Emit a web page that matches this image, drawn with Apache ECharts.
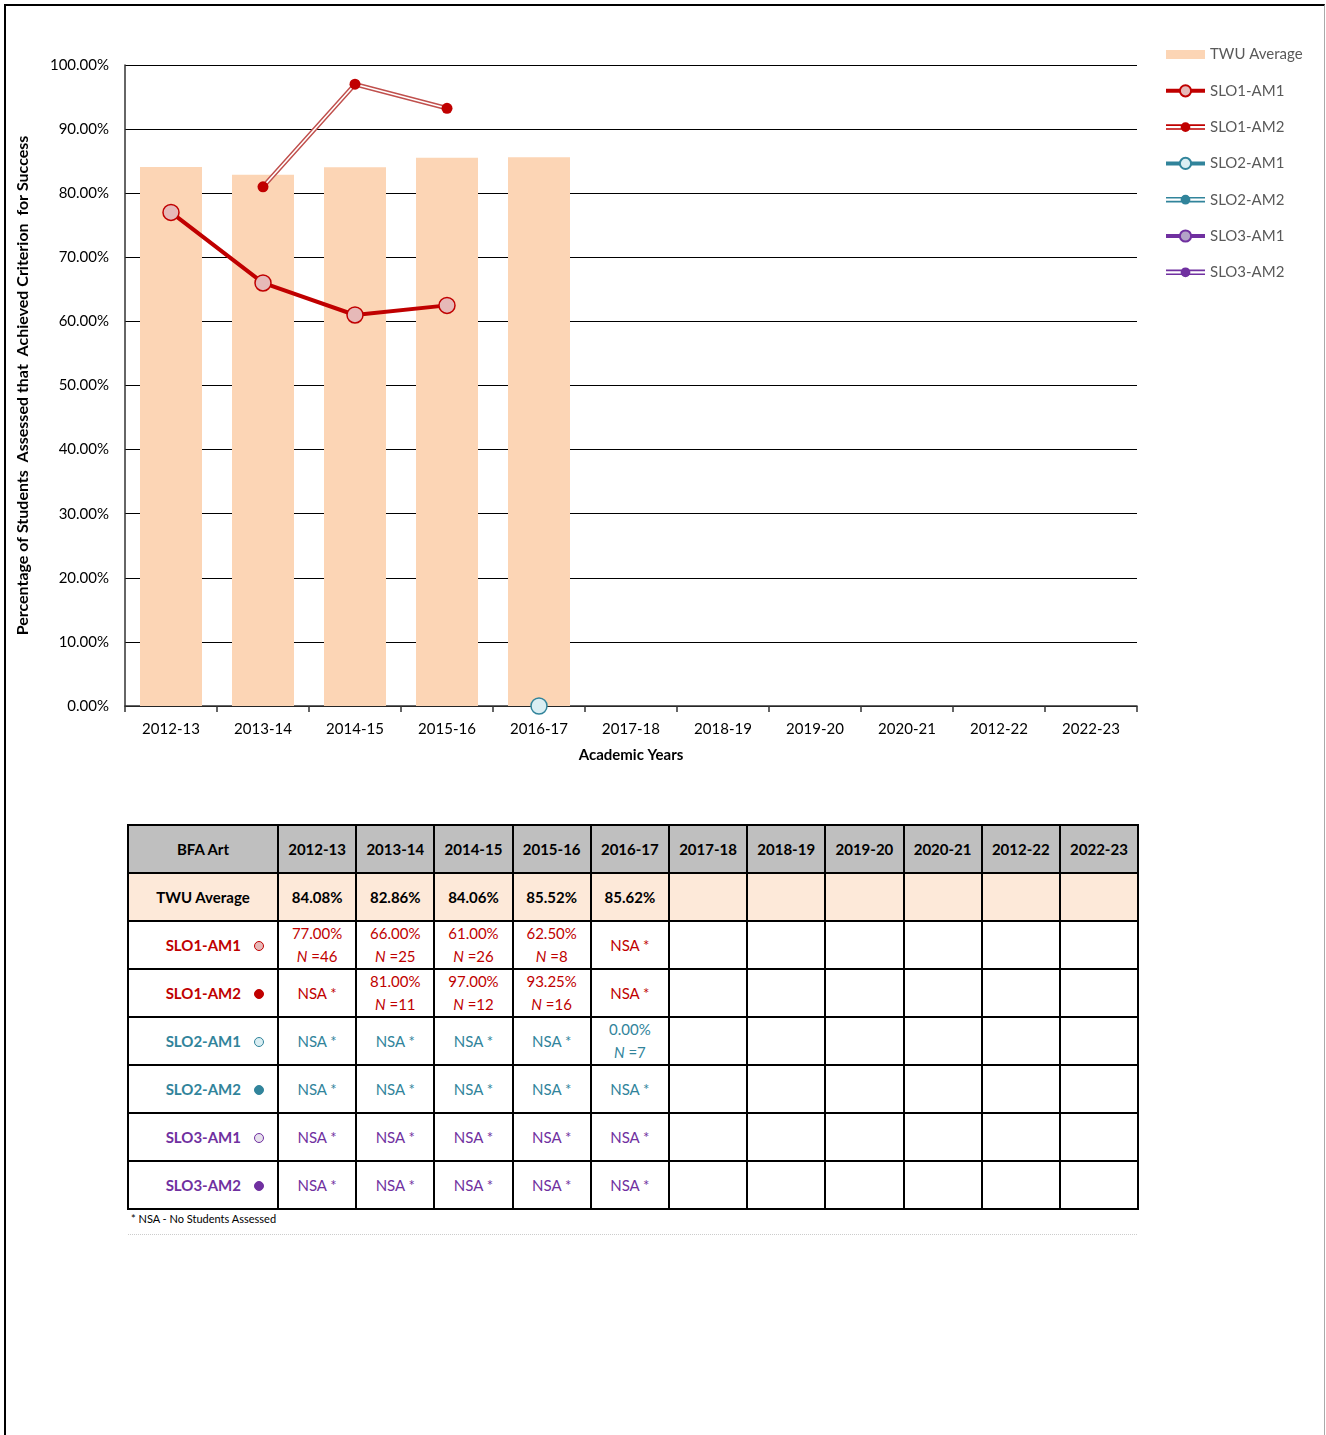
<!DOCTYPE html>
<html>
<head>
<meta charset="utf-8">
<script src="https://cdn.jsdelivr.net/npm/echarts@6/dist/echarts.min.js"></script>
<style>
html,body{margin:0;padding:0;background:#fff;width:1326px;height:1435px;overflow:hidden;}
#frame{position:absolute;left:4px;top:4px;width:1321px;height:1440px;border-top:2px solid #000;border-left:2px solid #000;border-right:1px solid #aaa;box-sizing:border-box;}
#chart{position:absolute;left:0;top:0;width:1326px;height:800px;}
#tbl{position:absolute;left:127px;top:824px;border-collapse:collapse;table-layout:fixed;font-family:Lato,"Open Sans",sans-serif;font-size:15px;}
#tbl td{border:2px solid #000;height:46px;padding:0;text-align:center;vertical-align:middle;line-height:23px;}
#tbl tr.hdr td{background:#BFBFBF;font-weight:bold;color:#000;}
#tbl tr.twu td{background:#FDE9D9;font-weight:bold;color:#000;}
#tbl td.lab{text-align:right;padding-right:13px;font-weight:bold;}
#tbl td.lab0{text-align:center;font-weight:bold;}
.mk{display:inline-block;width:8px;height:8px;border-radius:50%;margin-left:13px;vertical-align:middle;position:relative;top:-1px;}
#foot{position:absolute;left:131px;top:1212px;font-family:Lato,"Open Sans",sans-serif;font-size:11px;color:#000;}
#dots{position:absolute;left:128px;top:1234px;width:1009px;border-top:1px dotted #ccc;}
</style>
</head>
<body>
<div id="frame"></div>
<div id="chart"></div>
<table id="tbl"></table>
<div id="foot">* NSA - No Students Assessed</div>
<div id="dots"></div>
<script>
// ---------- data ----------
const years = ['2012-13','2013-14','2014-15','2015-16','2016-17','2017-18','2018-19','2019-20','2020-21','2012-22','2022-23'];
const recordedYears = 5;
const twuAvg   = [84.08, 82.86, 84.06, 85.52, 85.62];
const slo1am1  = [77.00, 66.00, 61.00, 62.50, null];
const slo1am1N = [46, 25, 26, 8, null];
const slo1am2  = [null, 81.00, 97.00, 93.25, null];
const slo1am2N = [null, 11, 12, 16, null];
const slo2am1  = [null, null, null, null, 0.00];
const slo2am1N = [null, null, null, null, 7];
const slo2am2  = [null, null, null, null, null];
const slo2am2N = [null, null, null, null, null];
const slo3am1  = [null, null, null, null, null];
const slo3am1N = [null, null, null, null, null];
const slo3am2  = [null, null, null, null, null];
const slo3am2N = [null, null, null, null, null];
const yTicks = [0,10,20,30,40,50,60,70,80,90,100];

// ---------- styles ----------
const RED='#C00000', RED2='#C0504D', TEAL='#31849B', PURP='#7030A0';
const FONT='Lato';

const corners='M0,0 L0.01,0 L0.01,0.01 Z M39.99,13.99 L40,13.99 L40,14 Z ';
const dblIcon='path://'+corners+'M0,4.2 L40,4.2 L40,5.8 L0,5.8 Z M0,8.2 L40,8.2 L40,9.8 L0,9.8 Z M15,7 A5,5 0 1,1 25,7 A5,5 0 1,1 15,7 Z';
const barIcon='path://'+corners+'M0,2.5 L40,2.5 L40,11.5 L0,11.5 Z';

function am1(name,data,color,fill){
  return {name:name,type:'line',data:data,z:5,clip:false,
    lineStyle:{color:color,width:4},symbol:'circle',symbolSize:16,showAllSymbol:true,
    itemStyle:{color:fill,borderColor:color,borderWidth:1.5}};
}
function am2(name,data,color,outer){
  return [
    {name:name+' outer',type:'line',data:data,z:4,symbol:'none',lineStyle:{color:outer,width:4.5},silent:true},
    {name:name+' core',type:'line',data:data,z:4,symbol:'none',lineStyle:{color:'#fff',width:1.6},silent:true},
    {name:name,type:'line',data:data,z:6,clip:false,symbol:'circle',symbolSize:11,showAllSymbol:true,
      lineStyle:{opacity:0,width:0},itemStyle:{color:color,borderWidth:0}}
  ];
}

const chart = echarts.init(document.getElementById('chart'));
chart.setOption({
  animation:false,
  grid:{left:125,right:189,top:65,bottom:94},
  legend:{
    orient:'vertical',left:1159,top:42,itemWidth:39,itemHeight:14,itemGap:21.3,
    lineStyle:{width:4},
    textStyle:{fontFamily:FONT,fontSize:15,color:'#595959'},
    data:[
      {name:'TWU Average',icon:barIcon,itemStyle:{borderWidth:0}},
      {name:'SLO1-AM1'},
      {name:'SLO1-AM2',icon:dblIcon,itemStyle:{borderWidth:0}},
      {name:'SLO2-AM1'},
      {name:'SLO2-AM2',icon:dblIcon,itemStyle:{borderWidth:0}},
      {name:'SLO3-AM1'},
      {name:'SLO3-AM2',icon:dblIcon,itemStyle:{borderWidth:0}}
    ]
  },
  xAxis:{
    type:'category',data:years,boundaryGap:true,
    axisLine:{lineStyle:{color:'#333',width:1.5}},
    axisTick:{show:true,length:6,alignWithLabel:false,lineStyle:{color:'#333',width:1.5}},
    axisLabel:{fontFamily:FONT,fontSize:15,color:'#000',margin:16,interval:0},
    name:'Academic Years',nameLocation:'middle',nameGap:42,
    nameTextStyle:{fontFamily:FONT,fontSize:15,fontWeight:'bold',color:'#000'}
  },
  yAxis:{
    type:'value',min:yTicks[0],max:yTicks[yTicks.length-1],interval:yTicks[1]-yTicks[0],
    axisLine:{show:true,lineStyle:{color:'#333',width:1.5}},
    axisTick:{show:false},
    splitLine:{show:true,lineStyle:{color:'#000',width:1}},
    axisLabel:{fontFamily:FONT,fontSize:15,color:'#000',margin:16,formatter:v=>v.toFixed(2)+'%'},
    name:'Percentage of Students  Assessed that  Achieved Criterion  for Success',
    nameLocation:'middle',nameGap:94,
    nameTextStyle:{fontFamily:FONT,fontSize:16,fontWeight:'bold',color:'#000'}
  },
  series:[
    {name:'TWU Average',type:'bar',data:twuAvg,barWidth:62,z:1,itemStyle:{color:'#FCD5B5'}},
    am1('SLO1-AM1',slo1am1,RED,'#E6B9B8'),
    ...am2('SLO1-AM2',slo1am2,RED,RED2),
    am1('SLO2-AM1',slo2am1,TEAL,'#DAEEF3'),
    ...am2('SLO2-AM2',slo2am2,TEAL,'#4BACC6'),
    am1('SLO3-AM1',slo3am1,PURP,'#B3A2C7'),
    ...am2('SLO3-AM2',slo3am2,PURP,'#8064A2')
  ]
});

// ---------- table ----------
const rows=[
  {name:'SLO1-AM1',color:RED,fill:'#E6B9B8',v:slo1am1,n:slo1am1N},
  {name:'SLO1-AM2',color:RED,fill:RED,v:slo1am2,n:slo1am2N},
  {name:'SLO2-AM1',color:TEAL,fill:'#DAEEF3',v:slo2am1,n:slo2am1N},
  {name:'SLO2-AM2',color:TEAL,fill:TEAL,v:slo2am2,n:slo2am2N},
  {name:'SLO3-AM1',color:PURP,fill:'#E6E0EC',v:slo3am1,n:slo3am1N},
  {name:'SLO3-AM2',color:PURP,fill:PURP,v:slo3am2,n:slo3am2N}
];
let html='<colgroup><col style="width:150px">'+years.map(()=>'<col style="width:78.2px">').join('')+'</colgroup>';
html+='<tr class="hdr"><td class="lab0">BFA Art</td>'+years.map(y=>'<td>'+y+'</td>').join('')+'</tr>';
html+='<tr class="twu"><td class="lab0">TWU Average</td>'+years.map((y,i)=>'<td>'+(i<twuAvg.length?twuAvg[i].toFixed(2)+'%':'')+'</td>').join('')+'</tr>';
rows.forEach(r=>{
  html+='<tr><td class="lab" style="color:'+r.color+'">'+r.name+'<span class="mk" style="background:'+r.fill+';border:1px solid '+r.color+'"></span></td>';
  years.forEach((y,i)=>{
    let c='';
    if(i<recordedYears){
      c = r.v[i]==null ? 'NSA *' : r.v[i].toFixed(2)+'%<br><i>N</i> =' + r.n[i];
    }
    html+='<td style="color:'+r.color+'">'+c+'</td>';
  });
  html+='</tr>';
});
document.getElementById('tbl').innerHTML=html;
</script>
</body>
</html>
